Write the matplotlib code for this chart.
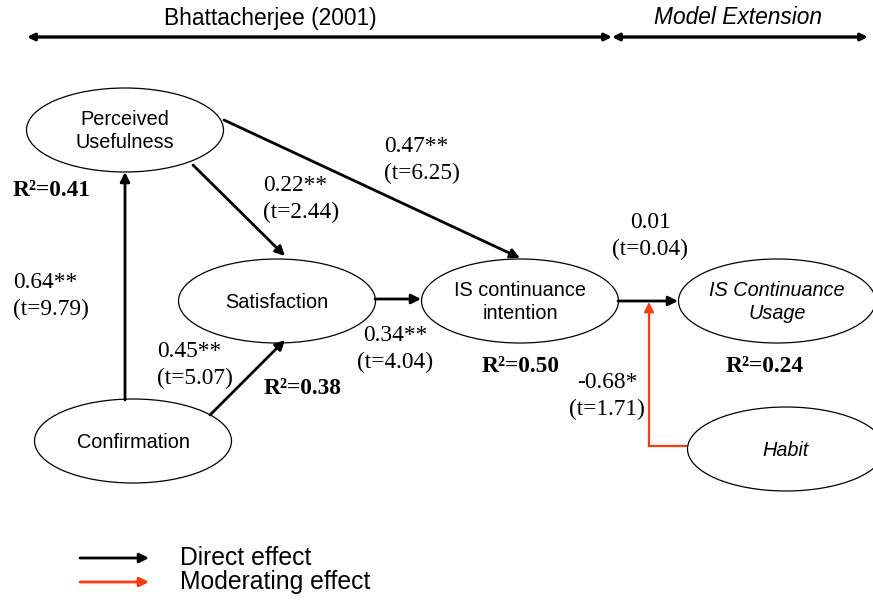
import matplotlib.pyplot as plt
from matplotlib.patches import Ellipse

# ---- data ----
constructs = ["Perceived\nUsefulness", "Satisfaction", "Confirmation",
              "IS continuance\nintention", "IS Continuance\nUsage", "Habit"]
r_squared = {"Perceived\nUsefulness": 0.41, "Satisfaction": 0.38,
             "IS continuance\nintention": 0.50, "IS Continuance\nUsage": 0.24}
path_from = ["Confirmation", "Perceived\nUsefulness", "Confirmation",
             "Perceived\nUsefulness", "Satisfaction", "IS continuance\nintention"]
path_to = ["Perceived\nUsefulness", "Satisfaction", "Satisfaction",
           "IS continuance\nintention", "IS continuance\nintention", "IS Continuance\nUsage"]
path_coef = ["0.64**", "0.22**", "0.45**", "0.47**", "0.34**", "0.01"]
path_t = ["9.79", "2.44", "5.07", "6.25", "4.04", "0.04"]
moderator_coef = "-0.68*"
moderator_t = "1.71"
sections = ["Bhattacherjee (2001)", "Model Extension"]
legend_labels = ["Direct effect", "Moderating effect"]

# ---- layout (pixel coordinates) ----
centers = {"Perceived\nUsefulness": (125, 130), "Satisfaction": (277, 301),
           "Confirmation": (133, 441), "IS continuance\nintention": (520, 301),
           "IS Continuance\nUsage": (777, 301), "Habit": (786, 449)}
italic_nodes = ["IS Continuance\nUsage", "Habit"]
# start / end points of each path arrow
path_pts = [((125, 400), (125, 172)), ((193, 165), (285, 256)),
            ((210, 415), (285, 340)), ((224, 120), (520, 258)),
            ((375, 299), (421, 299)), ((618, 301), (678, 301))]
coef_pos = [(13, 296, 'left'), (263, 199, 'left'), (157, 365, 'left'),
            (384, 160, 'left'), (395, 349, 'center'), (650, 236, 'center')]
r2_pos = {"Perceived\nUsefulness": (13, 190, 'left'), "Satisfaction": (264, 388, 'left'),
          "IS continuance\nintention": (521, 367, 'center'),
          "IS Continuance\nUsage": (765, 367, 'center')}

SANS = "Liberation Sans"
SERIF = "Liberation Serif"
RED = "#FF3A12"

fig = plt.figure(figsize=(8.73, 6.01), dpi=100)
ax = fig.add_axes([0, 0, 1, 1])
ax.set_xlim(0, 873)
ax.set_ylim(601, 0)
ax.axis('off')

# header arrows
ax.annotate('', xy=(27, 37), xytext=(612, 37),
            arrowprops=dict(arrowstyle='<|-|>', lw=2.4, color='black',
                            mutation_scale=10, shrinkA=0, shrinkB=0))
ax.annotate('', xy=(612, 37), xytext=(868, 37),
            arrowprops=dict(arrowstyle='<|-|>', lw=2.4, color='black',
                            mutation_scale=10, shrinkA=0, shrinkB=0))
ax.text(270, 18, sections[0], ha='center', va='center', fontsize=16.4, family=SANS)
ax.text(738, 18, sections[1], ha='center', va='center', fontsize=16.4,
        family=SANS, style='italic')

# constructs
for name in constructs:
    cx, cy = centers[name]
    ax.add_patch(Ellipse((cx, cy), 197, 84, fill=False, lw=0.9, ec='black'))
    ax.text(cx, cy + 1, name, ha='center', va='center', fontsize=14.3,
            family=SANS, linespacing=1.28,
            style='italic' if name in italic_nodes else 'normal')

# direct paths
for (p0, p1), c, t, (tx, ty, ha) in zip(path_pts, path_coef, path_t, coef_pos):
    ax.annotate('', xy=p1, xytext=p0,
                arrowprops=dict(arrowstyle='-|>', lw=2, color='black',
                                mutation_scale=14, shrinkA=0, shrinkB=0))
    ax.text(tx, ty, f"{c}\n(t={t})", ha=ha, va='center', fontsize=16.8,
            family=SERIF, linespacing=1.32,
            multialignment='left' if ha == 'left' else 'center')

# moderating effect of habit
ax.plot([686, 649], [446, 446], color=RED, lw=1.6)
ax.annotate('', xy=(649, 302), xytext=(649, 446),
            arrowprops=dict(arrowstyle='-|>', lw=1.6, color=RED,
                            mutation_scale=14, shrinkA=0, shrinkB=0))
ax.text(607, 396, f"{moderator_coef}\n(t={moderator_t})", ha='center', va='center',
        fontsize=16.8, family=SERIF, linespacing=1.32)

# R squared
for name, val in r_squared.items():
    x, y, ha = r2_pos[name]
    ax.text(x, y, f"R\u00b2={val:.2f}", ha=ha, va='center', fontsize=16.8,
            family=SERIF, weight='bold')

# legend
for y, col, lab in zip([558, 582], ['black', RED], legend_labels):
    ax.annotate('', xy=(149, y), xytext=(80, y),
                arrowprops=dict(arrowstyle='-|>', lw=2, color=col,
                                mutation_scale=14, shrinkA=0, shrinkB=0))
    ax.text(180, y, lab, ha='left', va='center', fontsize=17.8, family=SANS)

fig.savefig('out.png', dpi=100)
